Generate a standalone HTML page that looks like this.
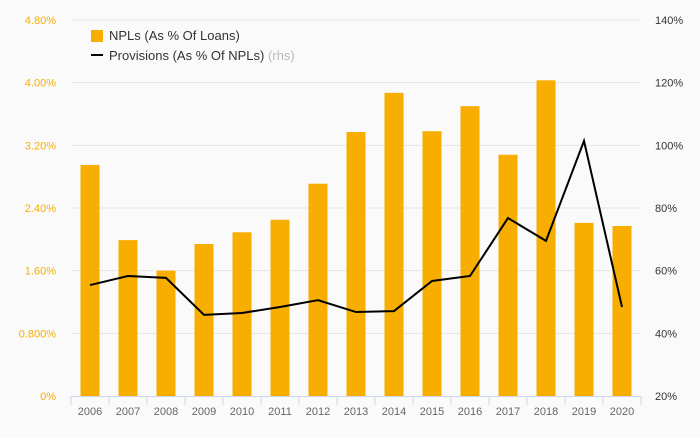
<!DOCTYPE html>
<html><head><meta charset="utf-8"><style>
body{margin:0;background:#fafafa;font-family:"Liberation Sans",sans-serif}
svg text{font-family:"Liberation Sans",sans-serif}
</style></head><body>
<svg id="c" width="700" height="433">
<rect width="700" height="433" fill="#fafafa"/>
<g id="grid"></g><g id="bars"></g><g id="axes"></g><g id="line"></g>
<g>
<rect x="91" y="30" width="12" height="12" fill="#f7ae00"/>
<text x="109" y="40" font-size="13" fill="#333">NPLs (As % Of Loans)</text>
<line x1="91" y1="55" x2="103" y2="55" stroke="#000" stroke-width="2"/>
<text x="109" y="60" font-size="13" fill="#333">Provisions (As % Of NPLs) <tspan fill="#bbb">(rhs)</tspan></text>
</g>
</svg>
<script>
const years=["2006","2007","2008","2009","2010","2011","2012","2013","2014","2015","2016","2017","2018","2019","2020"];
const npls=[2.95,1.99,1.60,1.94,2.09,2.25,2.71,3.37,3.87,3.38,3.70,3.08,4.03,2.21,2.17];
const provisions=[55.4,58.3,57.7,45.9,46.5,48.4,50.6,46.8,47.1,56.7,58.3,76.8,69.5,101.4,48.4];
const leftTicks=[0,0.8,1.6,2.4,3.2,4.0,4.8];
const leftLabels=["0%","0.800%","1.60%","2.40%","3.20%","4.00%","4.80%"];
const rightTicks=[20,40,60,80,100,120,140];
const rightLabels=["20%","40%","60%","80%","100%","120%","140%"];
const X0=71,STEP=38,TOP=20,BOT=396;
const yL=v=>BOT-v/4.8*(BOT-TOP);
const yR=v=>BOT-(v-20)/120*(BOT-TOP);
const xC=i=>X0+STEP*(i+0.5);
const NS="http://www.w3.org/2000/svg";
function mk(p,t,a){const e=document.createElementNS(NS,t);for(const k in a)e.setAttribute(k,a[k]);document.getElementById(p).appendChild(e);return e;}
leftTicks.forEach((v,i)=>{
 if(i>0){const g=mk("grid","line",{x1:X0,x2:641,y1:yL(v),y2:yL(v),stroke:"#e6e6e6"});
 
 }
 const t=mk("axes","text",{x:56,y:yL(v)+4,"text-anchor":"end","font-size":"11",fill:"#f7ae00"});t.textContent=leftLabels[i];
 
 
});
rightTicks.forEach((v,i)=>{
 const t=mk("axes","text",{x:655,y:yR(v)+4,"font-size":"11",fill:"#333"});t.textContent=rightLabels[i];
 
 
});
years.forEach((y,i)=>{
 const b=mk("bars","rect",{x:xC(i)-9.5,y:yL(npls[i]),width:19,height:BOT-yL(npls[i]),fill:"#f7ae00"});
 
 
 const t=mk("axes","text",{x:xC(i),y:415,"text-anchor":"middle","font-size":"11",fill:"#666"});t.textContent=y;
 
 
});
for(let i=0;i<=years.length;i++){const l=mk("axes","line",{x1:X0+STEP*i,x2:X0+STEP*i,y1:BOT,y2:405,stroke:"#ccd6eb"});
 
 }
const ax=mk("axes","line",{x1:X0,x2:641,y1:BOT+0.5,y2:BOT+0.5,stroke:"#ccd6eb"});


const pl=mk("line","polyline",{points:provisions.map((v,i)=>xC(i)+","+yR(v)).join(" "),fill:"none",stroke:"#000","stroke-width":2});


</script>
</body></html>
